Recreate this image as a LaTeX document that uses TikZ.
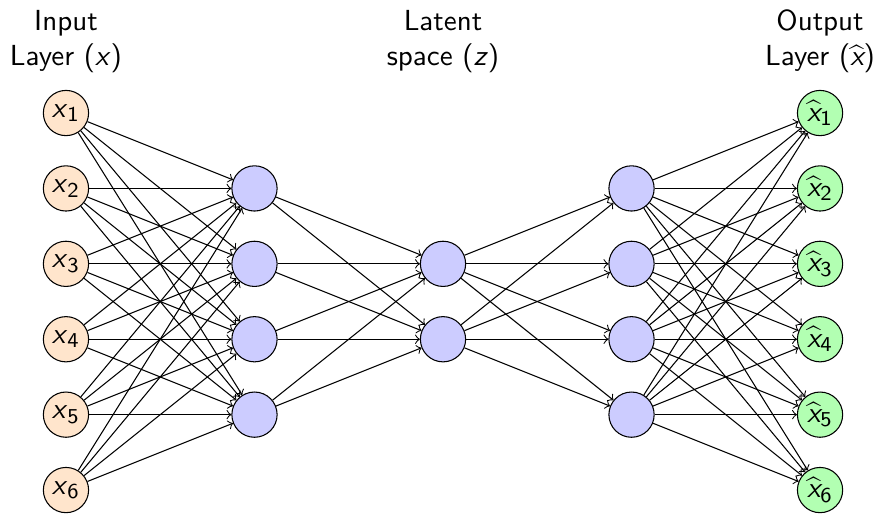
\documentclass[tikz,border=0pt]{standalone}
\usetikzlibrary{arrows}
\begin{document}
\begin{tikzpicture}[
  font=\sffamily\fontsize{10.95}{13.2}\selectfont,
  neuron/.style={circle,draw,minimum size=0.6cm,inner sep=0pt},
  inneuron/.style={neuron,fill=orange!20},
  hidneuron/.style={neuron,fill=blue!20},
  outneuron/.style={neuron,fill=green!30},
  conn/.style={->,thin},
  lbl/.style={align=center,inner sep=0pt}
]
\useasboundingbox (-0.875,-5.332) rectangle (10.782,1.499);
\foreach \i in {1,...,6} {
  \node[inneuron] (i\i) at (0,{1-\i}) {\textit{x}\textsubscript{\i}};
  \node[outneuron] (o\i) at (10,{1-\i}) {$\widehat{\mbox{\itshape x}}$\textsubscript{\i}};
}
\foreach \j in {1,...,4} {
  \node[hidneuron] (h\j) at (2.5,{-\j}) {};
  \node[hidneuron] (g\j) at (7.5,{-\j}) {};
}
\foreach \k in {1,2} {
  \node[hidneuron] (l\k) at (5,{-1-\k}) {};
}
\node[lbl] (tin) at (0,0.95) {Input\\Layer (\textit{x})};
\node[lbl] (tlat) at (5,0.95) {Latent\\space (\textit{z})};
\node[lbl] (tout) at (10,0.95) {Output\\Layer ($\widehat{\mbox{\itshape x}}$)};
\foreach \i in {1,...,6} \foreach \j in {1,...,4} \draw[conn] (i\i) -- (h\j);
\foreach \j in {1,...,4} \foreach \k in {1,2} \draw[conn] (h\j) -- (l\k);
\foreach \k in {1,2} \foreach \j in {1,...,4} \draw[conn] (l\k) -- (g\j);
\foreach \j in {1,...,4} \foreach \i in {1,...,6} \draw[conn] (g\j) -- (o\i);
\end{tikzpicture}
\end{document}
